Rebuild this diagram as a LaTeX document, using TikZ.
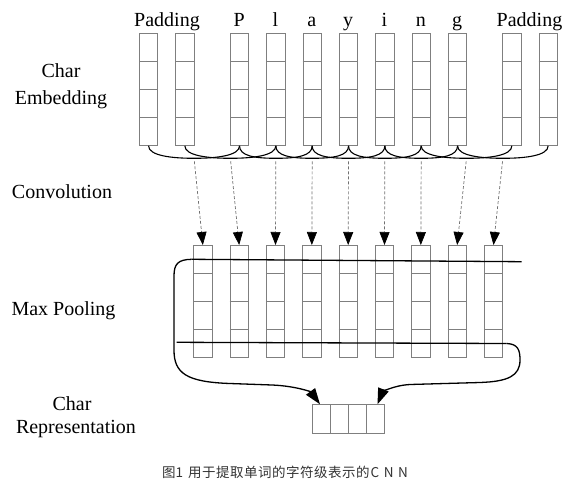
\documentclass[tikz,border=0pt]{standalone}
\usepackage{fontspec}
\setmainfont{Liberation Serif}
\newfontfamily\cjkfont{Noto Sans CJK SC}
\usetikzlibrary{arrows.meta,calc}
\definecolor{boxgray}{HTML}{7F7F7F}
\definecolor{capgray}{HTML}{333333}
\definecolor{dashgray}{HTML}{707070}
\begin{document}
\begin{tikzpicture}[x=1pt,y=-1pt,
  colbox/.style={draw=boxgray,line width=0.8pt,minimum width=18.3pt,minimum height=112pt,inner sep=0pt,anchor=north west},
  cellline/.style={draw=boxgray,line width=0.8pt},
  lbl/.style={font=\fontsize{20}{24}\selectfont,inner sep=0pt,anchor=base},
  convline/.style={draw=black,line width=1.1pt},
  darr/.style={draw=dashgray,line width=0.7pt,dash pattern=on 3pt off 2pt,shorten <=3pt,
    -{Triangle[length=13pt,width=10pt,color=black]}},
  pool/.style={draw=black,line width=1.3pt},
  poolarr/.style={draw=black,line width=1.3pt,-{Triangle[length=16pt,width=11pt]}}
]
\useasboundingbox (0,0) rectangle (584,500);

% top columns (char embeddings)
\foreach \i/\x in {0/139,1/175.3,2/230,3/266.3,4/302.6,5/339,6/375.3,7/411.6,8/448,9/502.3,10/538.6}{
  \node[colbox] (t\i) at (\x,33) {};
  \foreach \f in {0.25,0.5,0.75}
    \draw[cellline] ($(t\i.north west)!\f!(t\i.south west)$) -- ($(t\i.north east)!\f!(t\i.south east)$);
}

% bottom columns (convolution outputs)
\foreach \i in {0,...,8}{
  \node[colbox] (b\i) at ({193.3+36.33*\i},245) {};
  \foreach \f in {0.25,0.5,0.75}
    \draw[cellline] ($(b\i.north west)!\f!(b\i.south west)$) -- ($(b\i.north east)!\f!(b\i.south east)$);
}

% convolution windows
\foreach \k in {0,...,8}{
  \pgfmathtruncatemacro\kk{\k+2}
  \coordinate (m\k) at ($(t\k.south)!0.5!(t\kk.south)+(0,12.5)$);
  \draw[convline] (t\k.south) .. controls +(0,10) and +(-22,0) .. (m\k)
                  .. controls +(22,0) and +(0,10) .. (t\kk.south);
  \draw[darr] (m\k) -- (b\k.north);
}

% output (char representation)
\node[draw=boxgray,line width=0.8pt,anchor=north west,minimum width=72.6pt,minimum height=28.4pt,inner sep=0pt] (out) at (311.7,404.3) {};
\foreach \f in {0.25,0.5,0.75}
  \draw[cellline] ($(out.north west)!\f!(out.north east)$) -- ($(out.south west)!\f!(out.south east)$);

% max pooling lines
\coordinate (pa) at (521.7,261.7);
\coordinate (pb) at (191.7,259.3);
\coordinate (la) at ($(out.north west)+(8.3,0)$);
\draw[pool] (pa) -- (pb);
\draw[poolarr] (pb) .. controls (178,259.5) and (174,264) .. (174,276) -- (174,350)
   .. controls (174,373) and (186,382) .. (230,383.5) -- (272,385)
   .. controls (296,386) and (311,392) .. (la);

\coordinate (qa) at (176.7,342.3);
\coordinate (qb) at (506.7,343.5);
\coordinate (ra) at ($(out.north east)+(-7.6,0)$);
\draw[pool] (qa) -- (qb);
\draw[poolarr] (qb) .. controls (518,344) and (520,350) .. (520,360)
   .. controls (520,376) and (508,381.5) .. (480,382.5) -- (410,384.5)
   .. controls (392,385.5) and (382,393) .. (ra);

% top labels
\node[lbl] (lpad1) at (167,27) {Padding};
\node[lbl] (lP) at (239.2,27) {P};
\node[lbl] (ll) at (275.5,27) {l};
\node[lbl] (la1) at (311.8,27) {a};
\node[lbl] (ly) at (348.2,27) {y};
\node[lbl] (li) at (384.5,27) {i};
\node[lbl] (ln) at (420.8,27) {n};
\node[lbl] (lg) at (457.2,27) {g};
\node[lbl] (lpad2) at (529.5,27) {Padding};

% left labels
\node[lbl] (ce1) at (61,77.5) {Char};
\node[lbl] (ce2) at (61,105) {Embedding};
\node[lbl] (conv) at (62,198.5) {Convolution};
\node[lbl] (mp) at (63.5,315.5) {Max Pooling};
\node[lbl] (cr1) at (72,410) {Char};
\node[lbl] (cr2) at (76,433) {Representation};

% caption
\node[font=\cjkfont\fontsize{13.5}{16}\selectfont,text=capgray,inner sep=0pt] (cap) at (285,472.5)
  {图1\hspace{5pt}用\hspace{0.5pt}于\hspace{0.5pt}提\hspace{0.5pt}取\hspace{0.5pt}单\hspace{0.5pt}词\hspace{0.5pt}的\hspace{0.5pt}字\hspace{0.5pt}符\hspace{0.5pt}级\hspace{0.5pt}表\hspace{0.5pt}示\hspace{0.5pt}的\hspace{1pt}C\hspace{4.5pt}N\hspace{4.5pt}N};
\end{tikzpicture}
\end{document}
